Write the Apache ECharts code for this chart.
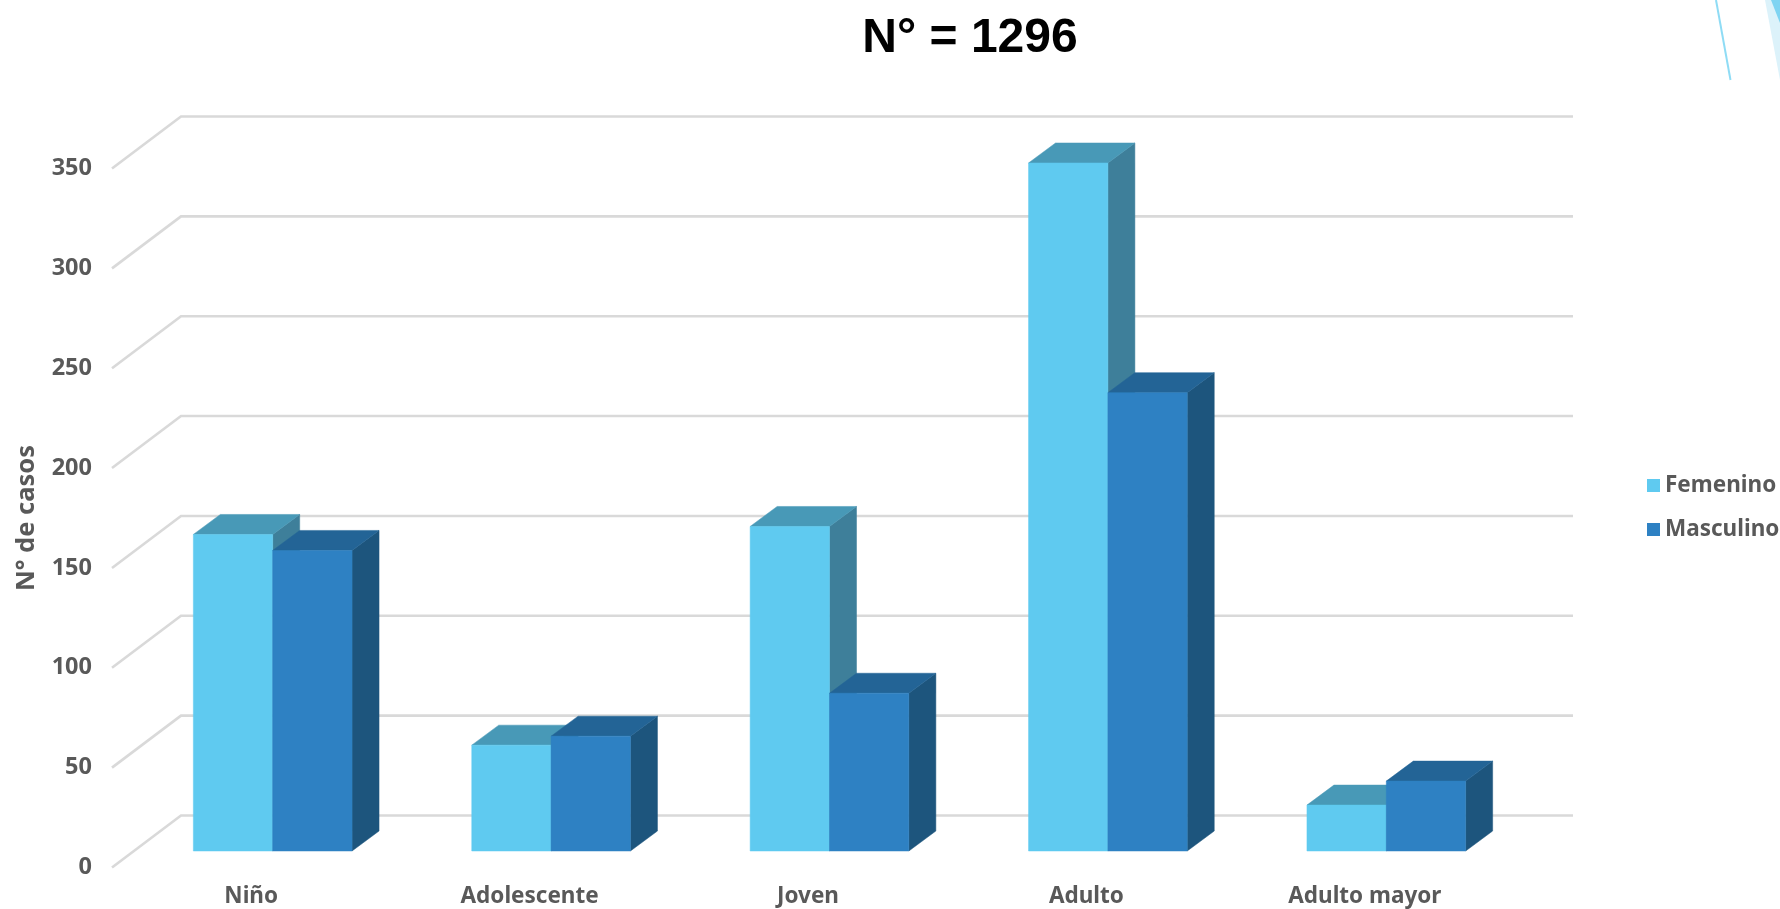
<!DOCTYPE html>
<html><head><meta charset="utf-8">
<style>html,body{margin:0;padding:0;background:#fff}#c{width:1780px;height:909px}</style>
<script src="https://cdn.jsdelivr.net/npm/echarts@6/dist/echarts.min.js"></script>
</head><body><div id="c"></div>
<script>
const categories = ['Niño','Adolescente','Joven','Adulto','Adulto mayor'];
const femenino = [158.5,53,162.5,344.5,23];
const masculino = [150.5,57.5,79,229.5,35];
const yTicks = [0,50,100,150,200,250,300,350];

const WALL_DX = 69, WALL_DY = 52;
const BAR_OFF_X = 21.5, BAR_OFF_Y = 16.5;
const BAR_DX = 27, BAR_DY = 20;
const BAR_FRAC = 0.285;
const FONT = 'Noto Sans';
const TXT = '#595959';

function wallItem(params, api){
  const cs = params.coordSys;
  const p = api.coord([0, api.value(0)]);
  const y = p[1], x0 = cs.x, x1 = cs.x + cs.width;
  return {type:'polyline', silent:true,
    shape:{points:[[x0,y],[x0+WALL_DX,y-WALL_DY],[x1+WALL_DX,y-WALL_DY]]},
    style:{fill:'none',stroke:'#D9D9D9',lineWidth:2.6}};
}
function barRenderer(slot, cols){
  return function(params, api){
    const i = api.value(0), v = api.value(1);
    const w = api.size([1,0])[0]*BAR_FRAC;
    const base = api.coord([i,0]), top = api.coord([i,v]);
    const xl = base[0]+BAR_OFF_X+slot*w, xr = xl+w;
    const yb = base[1]-BAR_OFF_Y, yt = top[1]-BAR_OFF_Y;
    const poly = (pts,fill)=>({type:'polygon',shape:{points:pts},style:{fill:fill,stroke:fill,lineWidth:0.5}});
    return {type:'group',children:[
      poly([[xr,yb],[xr+BAR_DX,yb-BAR_DY],[xr+BAR_DX,yt-BAR_DY],[xr,yt]],cols.side),
      poly([[xl,yt],[xl+BAR_DX,yt-BAR_DY],[xr+BAR_DX,yt-BAR_DY],[xr,yt]],cols.top),
      poly([[xl,yb],[xr,yb],[xr,yt],[xl,yt]],cols.front)
    ]};
  };
}
const chart = echarts.init(document.getElementById('c'),null,{renderer:'canvas'});
chart.setOption({
  animation:false,
  backgroundColor:'#fff',
  title:{text:'N° = 1296',left:965,top:10,textAlign:'center',
    textStyle:{fontFamily:'Liberation Sans',fontWeight:'bold',fontSize:48,color:'#000'}},
  legend:{orient:'vertical',left:1647,top:474,padding:0,itemWidth:13,itemHeight:13,itemGap:21,icon:'rect',
    data:['Femenino','Masculino'],
    textStyle:{fontFamily:FONT,fontWeight:'bold',fontSize:22.5,color:TXT}},
  grid:{left:112,right:276,top:168.5,bottom:41.5},
  xAxis:{type:'category',data:categories,
    axisLine:{show:false},axisTick:{show:false},splitLine:{show:false},
    axisLabel:{margin:18,fontFamily:FONT,fontWeight:'bold',fontSize:22.5,color:TXT}},
  yAxis:{type:'value',min:0,max:350,interval:50,
    name:'N° de casos',nameLocation:'middle',nameGap:72,
    nameTextStyle:{fontFamily:FONT,fontWeight:'bold',fontSize:25.5,color:TXT},
    axisLine:{show:false},axisTick:{show:false},splitLine:{show:false},
    axisLabel:{margin:20,fontFamily:FONT,fontWeight:'bold',fontSize:23.5,color:TXT}},
  series:[
    {type:'custom',name:'Cuadrícula',data:yTicks.map(t=>[t]),renderItem:wallItem,z:1,silent:true,
      encode:{y:0},clip:false},
    {type:'custom',name:'Femenino',data:femenino.map((v,i)=>[i,v]),z:2,clip:false,
      itemStyle:{color:'#5FCAF0'},encode:{x:0,y:1},
      renderItem:barRenderer(-1,{front:'#5FCAF0',top:'#4899B7',side:'#3E7F9A'})},
    {type:'custom',name:'Masculino',data:masculino.map((v,i)=>[i,v]),z:3,clip:false,
      itemStyle:{color:'#2E81C3'},encode:{x:0,y:1},
      renderItem:barRenderer(0,{front:'#2E81C3',top:'#236496',side:'#1D557D'})}
  ],
  graphic:[
    {type:'polygon',shape:{points:[[1765,0],[1780,80],[1780,0]]},style:{fill:'#DCF2FA'},silent:true},
    {type:'polygon',shape:{points:[[1771,0],[1780,23],[1780,0]]},style:{fill:'#7FD4F2'},silent:true},
    {type:'line',shape:{x1:1716,y1:0,x2:1730.5,y2:80},style:{stroke:'#8FDCF5',lineWidth:2},silent:true}
  ]
});
</script></body></html>
